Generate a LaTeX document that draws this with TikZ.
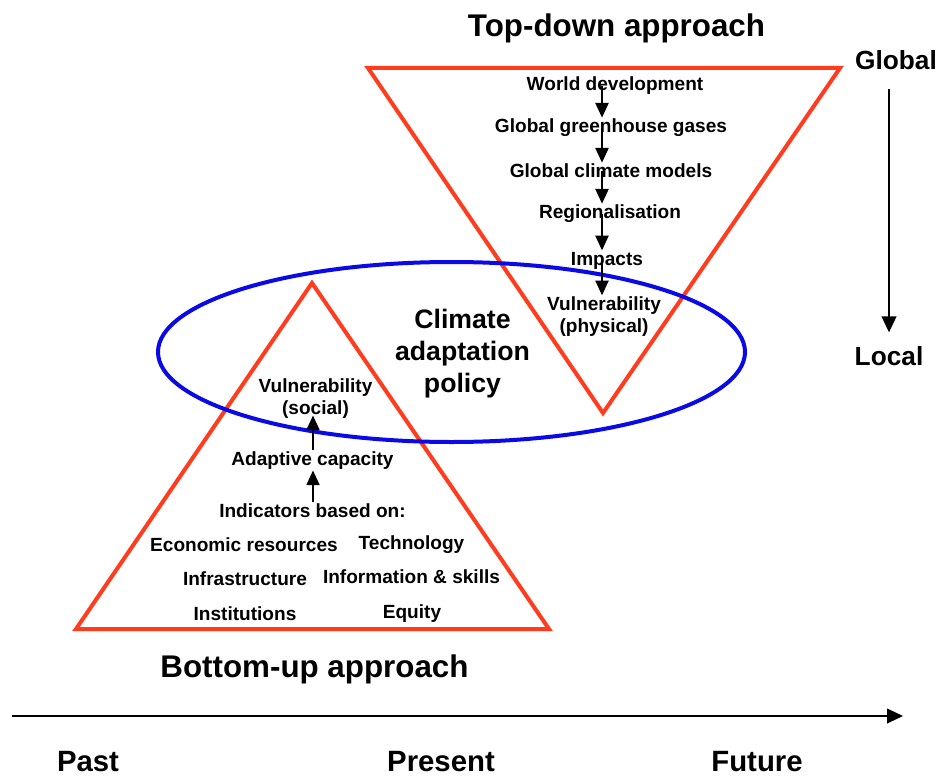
\documentclass[tikz,border=0pt]{standalone}
\usepackage{fontspec}
\setmainfont{Liberation Sans}
\usetikzlibrary{arrows.meta}
\definecolor{trired}{RGB}{255,60,30}
\definecolor{ellblue}{RGB}{10,10,230}
\begin{document}
\begin{tikzpicture}[x=0.75pt,y=-0.75pt,
  small/.style={font=\fontsize{14.3}{16}\selectfont\bfseries, inner sep=1pt, anchor=base, align=center},
  title/.style={font=\fontsize{23.5}{28}\selectfont\bfseries, inner sep=0pt, anchor=base},
  big/.style={font=\fontsize{20}{24}\selectfont\bfseries, inner sep=0pt, anchor=base, align=center},
  axislabel/.style={font=\fontsize{19.7}{24}\selectfont\bfseries, inner sep=0pt, anchor=base},
  timelabel/.style={font=\fontsize{22}{26}\selectfont\bfseries, inner sep=0pt, anchor=base},
  tri/.style={draw=trired, line width=3pt, line join=miter},
  chain/.style={-{Triangle[length=11pt,width=10pt]}, line width=0.9pt},
  axisarrow/.style={-{Triangle[length=12pt,width=11pt]}, line width=1.5pt}]
\useasboundingbox (0,0) rectangle (937,777);

% triangles
\draw[tri] (368,68) -- (840,68) -- (603,413) -- cycle;
\draw[tri] (312,283) -- (549,629) -- (76,629) -- cycle;
% ellipse
\draw[draw=ellblue, line width=3pt] (451.5,352) ellipse [x radius=293.5, y radius=90];

% titles
\node[title] (td) at (616.5,37) {Top-down approach};
\node[title] (bu) at (314.5,677) {Bottom-up approach};

% policy
\node[big] (cap) at (462.5,392) {Climate\\adaptation\\policy};

% top chain
\coordinate (ax) at (602,0);
\node[small] (wd) at (615,91) {World development};
\node[small] (ggg) at (611,133) {Global greenhouse gases};
\node[small] (gcm) at (611,178) {Global climate models};
\node[small] (reg) at (610,219) {Regionalisation};
\node[small] (imp) at (607,265) {Impacts};
\node[small] (vp) at (604,332) {Vulnerability\\(physical)};
\draw[chain] (wd.center -| ax) -- (ggg.north -| ax);
\draw[chain] (ggg.center -| ax) -- (gcm.north -| ax);
\draw[chain] (gcm.center -| ax) -- (reg.north -| ax);
\draw[chain] (reg.center -| ax) -- (imp.north -| ax);
\draw[chain] (imp.center -| ax) -- (vp.north -| ax);

% bottom chain
\coordinate (bx) at (313,0);
\node[small] (vs) at (315.5,414) {Vulnerability\\(social)};
\node[small] (ac) at (312.5,465) {Adaptive capacity};
\node[small] (ind) at (312.5,517) {Indicators based on:};
\node[small] (er) at (244,551) {Economic resources};
\node[small] (te) at (411.5,549) {Technology};
\node[small] (inf) at (245,585) {Infrastructure};
\node[small] (is) at (411.5,583) {Information \& skills};
\node[small] (ins) at (245,620) {Institutions};
\node[small] (eq) at (412,618) {Equity};
\draw[chain] (ind.north -| bx) -- (ac.south -| bx);
\draw[chain] (ac.north -| bx) -- ([yshift=3pt]vs.south -| bx);

% global-local
\node[axislabel] (gl) at (896,70) {Global};
\node[axislabel] (lo) at (889,365) {Local};
\draw[axisarrow] ([yshift=-14pt]gl.south -| lo) -- ([yshift=10pt]lo.north);

% time axis
\coordinate (t0) at (12,716);
\coordinate (t1) at (903,716);
\draw[axisarrow] (t0) -- (t1);
\node[timelabel] (past) at (88,771) {Past};
\node[timelabel] (pres) at (441,771) {Present};
\node[timelabel] (fut) at (757,771) {Future};
\end{tikzpicture}
\end{document}
